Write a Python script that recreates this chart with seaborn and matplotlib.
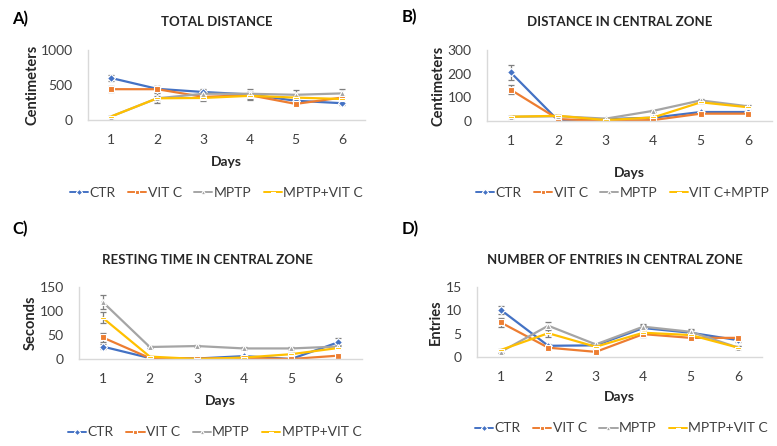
import matplotlib
matplotlib.use('Agg')
import matplotlib.pyplot as plt
import seaborn as sns
import numpy as np
import pandas as pd

days = [1, 2, 3, 4, 5, 6]

# A) total distance (cm)
dist_ctr = [600, 445, 400, 365, 275, 240]
dist_vitc = [440, 440, 330, 355, 230, 320]
dist_mptp = [50, 310, 375, 375, 360, 380]
dist_combo = [50, 310, 315, 345, 320, 300]
dist_ctr_sd = [40, 40, 40, 40, 30, 20]
dist_vitc_sd = [45, 40, 40, 40, 30, 30]
dist_mptp_sd = [10, 70, 60, 70, 70, 70]
dist_combo_sd = [10, 40, 40, 60, 40, 40]

# B) distance in central zone (cm)
cdist_ctr = [205, 2, 8, 14, 38, 38]
cdist_vitc = [132, 8, 0, 4, 31, 31]
cdist_mptp = [18, 20, 10, 43, 87, 62]
cdist_combo = [18, 22, 4, 15, 79, 58]
cdist_ctr_sd = [30, 3, 3, 4, 5, 5]
cdist_vitc_sd = [20, 3, 2, 3, 5, 5]
cdist_mptp_sd = [4, 5, 3, 5, 5, 5]
cdist_combo_sd = [4, 5, 3, 5, 5, 5]

# C) resting time in central zone (s)
rest_ctr = [26, 2, 1, 6, 0, 35]
rest_vitc = [45, 2, 1, 2, 0, 7]
rest_mptp = [119, 25, 27, 22, 22, 26]
rest_combo = [86, 5, 0, 3, 10, 23]
rest_ctr_sd = [6, 1, 1, 2, 1, 8]
rest_vitc_sd = [10, 1, 1, 1, 1, 2]
rest_mptp_sd = [15, 3, 3, 3, 3, 3]
rest_combo_sd = [12, 2, 1, 1, 2, 3]

# D) number of entries in central zone
ent_ctr = [10.1, 2.4, 2.5, 6.2, 5.2, 3.6]
ent_vitc = [7.4, 2.0, 1.1, 4.9, 4.1, 4.1]
ent_mptp = [1.1, 6.7, 2.7, 6.5, 5.4, 2.0]
ent_combo = [1.5, 5.1, 2.2, 5.2, 4.7, 2.0]
ent_ctr_sd = [0.9, 0.3, 0.3, 0.6, 0.5, 0.4]
ent_vitc_sd = [0.9, 0.3, 0.3, 0.6, 0.5, 0.4]
ent_mptp_sd = [0.3, 0.9, 0.4, 0.6, 0.5, 0.3]
ent_combo_sd = [0.3, 0.9, 0.4, 0.6, 0.5, 0.3]

groups_acd = ['CTR', 'VIT C', 'MPTP', 'MPTP+VIT C']
groups_b = ['CTR', 'VIT C', 'MPTP', 'VIT C+MPTP']

colors = ['#4472C4', '#ED7D31', '#A5A5A5', '#FFC000']
# last one is a flat dash, built as a filled path so seaborn accepts it
dash = [(-1, -0.22), (1, -0.22), (1, 0.22), (-1, 0.22), (-1, -0.22)]
markers = ['D', 's', '^', dash]

sns.set_theme(style='white')
plt.rcParams['font.family'] = ['Lato', 'DejaVu Sans']

W, H = 777, 446
fig = plt.figure(figsize=(W / 100, H / 100), dpi=100)


def px_axes(left, top, right, bottom):
    return fig.add_axes([left / W, 1 - bottom / H, (right - left) / W, (bottom - top) / H])


def panel(ax, series, sds, names, ymax, ystep, ylabel, ylab_x, xlab_y, leg_x, leg_y):
    rows = []
    for name, vals in zip(names, series):
        for d, v in zip(days, vals):
            rows.append({'Days': d, 'value': v, 'group': name})
    df = pd.DataFrame(rows)
    for vals, sd in zip(series, sds):
        ax.errorbar(days, vals, yerr=sd, fmt='none', ecolor='#7f7f7f',
                    elinewidth=0.9, capsize=2, capthick=0.9, zorder=1)
    sns.lineplot(data=df, x='Days', y='value', hue='group', style='group',
                 hue_order=names, style_order=names,
                 palette=dict(zip(names, colors)), markers=dict(zip(names, markers)),
                 dashes=False, linewidth=1.6, markersize=4.2, markeredgewidth=0.8,
                 ax=ax)
    ax.set_xlim(0.5, 6.5)
    ax.set_ylim(0, ymax)
    ax.set_yticks(np.arange(0, ymax + 1e-9, ystep))
    ax.set_xticks(days)
    ax.tick_params(axis='both', length=0, labelsize=10, colors='#404040')
    ax.tick_params(axis='x', pad=10)
    ax.tick_params(axis='y', pad=11)
    for s in ['top', 'right']:
        ax.spines[s].set_visible(False)
    for s in ['left', 'bottom']:
        ax.spines[s].set_color('#D9D9D9')
        ax.spines[s].set_linewidth(1.0)
    ax.set_xlabel('Days', fontsize=10, fontweight='bold', color='#262626')
    ax.xaxis.label.set_va('center')
    ax.xaxis.set_label_coords(0.5, xlab_y)
    ax.set_ylabel(ylabel, fontsize=10.5, fontweight='bold', color='#262626')
    ax.yaxis.label.set_va('center')
    ax.yaxis.set_label_coords(ylab_x, 0.5)
    leg = ax.legend(loc='center', bbox_to_anchor=(leg_x, leg_y), ncol=4, frameon=False,
                    fontsize=10, handlelength=1.3, handletextpad=0.1, columnspacing=0.9,
                    labelcolor='#404040', borderpad=0, borderaxespad=0)
    for h in leg.legend_handles:
        h.set_markersize(3.2)
        h.set_linewidth(1.4)


axA = px_axes(88, 50, 365, 120)
panel(axA, [dist_ctr, dist_vitc, dist_mptp, dist_combo],
      [dist_ctr_sd, dist_vitc_sd, dist_mptp_sd, dist_combo_sd],
      groups_acd, 1000, 500, 'Centimeters', -0.2, -0.60, 0.464, -1.04)

axB = px_axes(487, 50, 772, 121)
panel(axB, [cdist_ctr, cdist_vitc, cdist_mptp, cdist_combo],
      [cdist_ctr_sd, cdist_vitc_sd, cdist_mptp_sd, cdist_combo_sd],
      groups_b, 300, 100, 'Centimeters', -0.17, -0.73, 0.476, -1.01)

axC = px_axes(79, 287, 362, 359)
panel(axC, [rest_ctr, rest_vitc, rest_mptp, rest_combo],
      [rest_ctr_sd, rest_vitc_sd, rest_mptp_sd, rest_combo_sd],
      groups_acd, 150, 50, 'Seconds', -0.17, -0.58, 0.48, -1.02)

axD = px_axes(477, 287, 762, 357)
panel(axD, [ent_ctr, ent_vitc, ent_mptp, ent_combo],
      [ent_ctr_sd, ent_vitc_sd, ent_mptp_sd, ent_combo_sd],
      groups_acd, 15, 5, 'Entries', -0.143, -0.57, 0.508, -1.02)

titles = [('TOTAL DISTANCE', 217, 22), ('DISTANCE IN CENTRAL ZONE', 620, 22),
          ('RESTING TIME IN CENTRAL ZONE', 207, 260), ('NUMBER OF ENTRIES IN CENTRAL ZONE', 615, 260)]
for t, x, y in titles:
    fig.text(x / W, 1 - y / H, t, ha='center', va='center', fontsize=9.5,
             fontweight='bold', color='#262626')

labels = [('A)', 12, 19), ('B)', 402, 17), ('C)', 12, 229), ('D)', 402, 229)]
for t, x, y in labels:
    fig.text(x / W, 1 - y / H, t, ha='left', va='center', fontsize=12,
             fontweight='bold', color='#000000')

fig.savefig('out.png', dpi=100, facecolor='white')
